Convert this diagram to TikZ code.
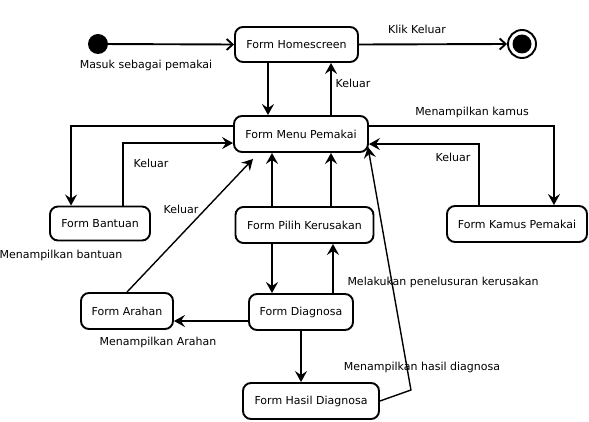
\documentclass[tikz,border=0pt]{standalone}
\usepackage{fontspec}
\setmainfont{DejaVu Sans}
\usetikzlibrary{arrows.meta,calc}
\begin{document}
\begin{tikzpicture}[x=1pt,y=-1pt,
  state/.style={draw, line width=1.9pt, rounded corners=8pt, inner sep=0pt, font=\fontsize{11}{12}\selectfont},
  lbl/.style={font=\fontsize{11}{12}\selectfont, inner sep=0pt},
  arr/.style={line width=1.9pt, -{Stealth[length=11pt,width=12pt,inset=4pt]}},
  tarr/.style={line width=1.4pt, -{Stealth[length=11pt,width=12pt,inset=4pt]}},
  oarr/.style={line width=1.9pt, -{Straight Barb[length=6pt,width=11pt]}},
]
\useasboundingbox (0,0) rectangle (589,422);

% pseudo states
\node[circle, fill=black, minimum size=20pt, inner sep=0pt] (start) at (98,44) {};
\node[circle, draw, line width=1.9pt, minimum size=28pt, inner sep=0pt] (end) at (522,44) {};
\node[circle, fill=black, minimum size=19pt, inner sep=0pt] (endin) at (522,44) {};

% states
\node[state, minimum width=123pt, minimum height=35pt] (home) at (296.5,44.5) {Form Homescreen};
\node[state, minimum width=134pt, minimum height=36pt] (menu) at (301,134) {Form Menu Pemakai};
\node[state, minimum width=140pt, minimum height=36pt] (kamus) at (517,224) {Form Kamus Pemakai};
\node[state, minimum width=100pt, minimum height=34pt] (bantuan) at (100,223.5) {Form Bantuan};
\node[state, minimum width=138pt, minimum height=36pt] (pilih) at (304.5,225) {Form Pilih Kerusakan};
\node[state, minimum width=104pt, minimum height=36pt] (diag) at (301,312) {Form Diagnosa};
\node[state, minimum width=92pt, minimum height=36pt] (arahan) at (127,311) {Form Arahan};
\node[state, minimum width=136pt, minimum height=36pt] (hasil) at (311,401) {Form Hasil Diagnosa};

% helper coordinates
\coordinate (kamusTurn) at ($(menu.east)+(185,-8)$);
\coordinate (kamusBack) at ($(kamus.north)+(-38,-61)$);
\coordinate (bantTurn) at ($(menu.west)+(-162,-8)$);
\coordinate (bantBack) at ($(bantuan.north)+(23,-62.5)$);
\coordinate (arahTip) at ($(menu.south)+(-48,6)$);
\coordinate (hasilBend) at ($(hasil.east)+(31,-11)$);
\coordinate (hasilTip) at ($(menu.east)+(-1,13)$);

% transitions
\draw[oarr] (start) -- (home.west);
\draw[oarr] (home.east) -- (end.west);

\draw[arr] ([xshift=-28.5pt]home.south) -- ([xshift=-28.5pt]home.south |- menu.north);
\draw[arr] ([xshift=34.5pt]home.south |- menu.north) -- ([xshift=34.5pt]home.south);

\draw[arr] ([yshift=8pt]menu.east) -- (kamusTurn) -- (kamusTurn |- kamus.north);
\draw[arr] (kamusBack |- kamus.north) -- (kamusBack) -- (kamusBack -| menu.east);

\draw[arr] ([yshift=8pt]menu.west) -- (bantTurn) -- (bantTurn |- bantuan.north);
\draw[arr] (bantBack |- bantuan.north) -- (bantBack) -- (bantBack -| menu.west);

\draw[arr] ([xshift=-32.5pt]pilih.north) -- ([xshift=-32.5pt]pilih.north |- menu.south);
\draw[arr] ([xshift=26.5pt]pilih.north) -- ([xshift=26.5pt]pilih.north |- menu.south);

\draw[arr] ([xshift=-32.5pt]pilih.south) -- ([xshift=-32.5pt]pilih.south |- diag.north);
\draw[arr] ([xshift=28.5pt]pilih.south |- diag.north) -- ([xshift=28.5pt]pilih.south);

\draw[arr] ([yshift=-9pt]diag.west) -- ([yshift=-9pt]diag.west -| arahan.east);
\draw[tarr] (arahan.north) -- (arahTip);

\draw[arr] (diag.south) -- (diag.south |- hasil.north);
\draw[tarr] (hasil.east) -- (hasilBend) -- (hasilTip);

% labels
\node[lbl] (l1) at (146,65) {Masuk sebagai pemakai};
\node[lbl] (l2) at (417,29) {Klik Keluar};
\node[lbl] (l3) at (353,83) {Keluar};
\node[lbl] (l4) at (472,112) {Menampilkan kamus};
\node[lbl] (l5) at (453,157) {Keluar};
\node[lbl] (l6) at (151,163) {Keluar};
\node[lbl] (l7) at (181,209) {Keluar};
\node[lbl] (l8) at (61,255) {Menampilkan bantuan};
\node[lbl] (l9) at (443,282) {Melakukan penelusuran kerusakan};
\node[lbl] (l10) at (158,342) {Menampilkan Arahan};
\node[lbl] (l11) at (422,367) {Menampilkan hasil diagnosa};
\end{tikzpicture}
\end{document}
